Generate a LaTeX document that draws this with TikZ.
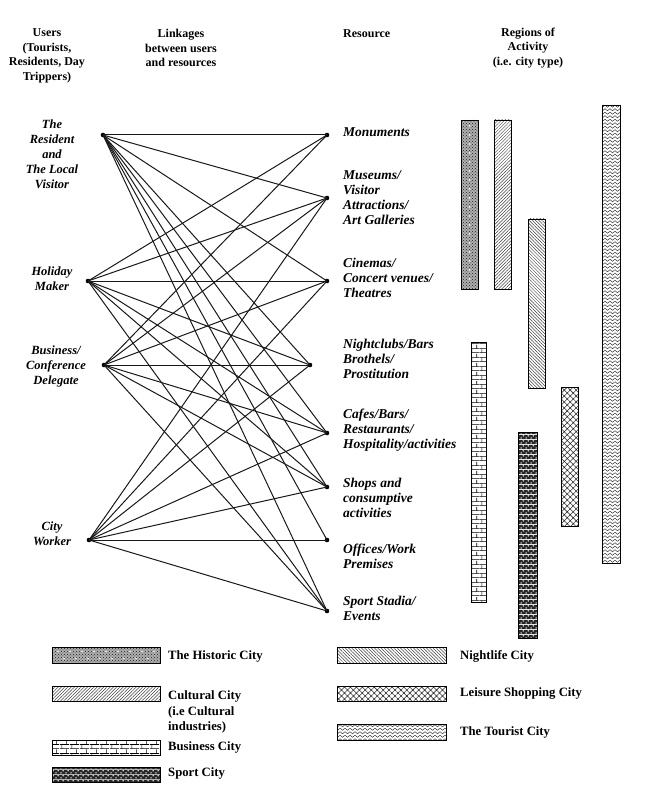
\documentclass[tikz,border=0pt]{standalone}
\usepackage{fontspec}
\setmainfont{Liberation Serif}
\usetikzlibrary{patterns,patterns.meta}

\tikzdeclarepattern{
  name=zigzagpat,
  type=uncolored,
  bottom left={(-1pt,-1pt)},
  top right={(6pt,4.5pt)},
  tile size={(5pt,3.5pt)},
  code={
    \draw[line width=0.5pt] (0pt,2.8pt) -- (2.5pt,0.7pt) -- (5pt,2.8pt);
  }
}
\tikzdeclarepattern{
  name=brickpat,
  type=uncolored,
  bottom left={(0pt,0pt)},
  top right={(10pt,9pt)},
  tile size={(10pt,9pt)},
  code={
    \draw[line width=0.7pt] (0pt,0.3pt) -- (10pt,0.3pt);
    \draw[line width=0.7pt] (0pt,4.8pt) -- (10pt,4.8pt);
    \draw[line width=0.7pt] (2pt,0pt) -- (2pt,4.8pt);
    \draw[line width=0.7pt] (7pt,4.8pt) -- (7pt,9pt);
  }
}
\tikzdeclarepattern{
  name=sportpat,
  type=colored,
  bottom left={(0pt,0pt)},
  top right={(5pt,5pt)},
  tile size={(5pt,5pt)},
  code={
    \fill[black!85] (0pt,0pt) rectangle (5pt,5pt);
    \fill[white] (1.25pt,1.25pt) circle (0.9pt);
    \fill[white] (3.75pt,3.75pt) circle (0.9pt);
  }
}

\begin{document}
\begin{tikzpicture}[x=1pt,y=-1pt,
  dot/.style={circle, fill=black, inner sep=0pt, minimum size=4.6pt},
  link/.style={line width=1pt, black!90},
  hdr/.style={font=\bfseries\fontsize{12}{14.5}\selectfont, align=center, inner sep=0pt},
  usr/.style={font=\bfseries\itshape\fontsize{12.5}{15}\selectfont, align=center, inner sep=0pt},
  res/.style={font=\bfseries\itshape\fontsize{13.5}{15.2}\selectfont, align=left, anchor=west, inner sep=0pt},
  leg/.style={font=\bfseries\fontsize{12.7}{15.5}\selectfont, align=left, anchor=west, inner sep=0pt},
  barframe/.style={draw=black, line width=0.7pt},
  historic/.style={barframe, preaction={fill=gray!62}, pattern=crosshatch dots, pattern color=black!90},
  cultural/.style={barframe, pattern={Lines[angle=45,distance=2.3pt,line width=0.5pt]}, pattern color=black!75},
  nightlife/.style={barframe, pattern={Lines[angle=-45,distance=2.3pt,line width=0.5pt]}, pattern color=black!75},
  leisure/.style={barframe, pattern={Hatch[angle=45,distance=4.2pt,line width=0.55pt]}, pattern color=black!85},
  tourist/.style={barframe, pattern=zigzagpat, pattern color=black!80},
  business/.style={draw=black, line width=0.6pt, pattern=brickpat, pattern color=black},
  sport/.style={barframe, pattern=sportpat},
  whitedot/.style={fill=white}
]
\useasboundingbox (0,0) rectangle (650,794);

% headers
\node[hdr] (h1) at (47,56) {Users\\(Tourists,\\Residents, Day\\Trippers)};
\node[hdr] (h2) at (181,48) {Linkages\\between users\\and resources};
\node[hdr, anchor=west] (h3) at (343,34) {Resource};
\node[hdr] (h4) at (528,48) {Regions of\\Activity\\(i.e. city type)};

% users
\node[dot] (u1) at (103,135) {};
\node[dot] (u2) at (88,281) {};
\node[dot] (u3) at (104,365) {};
\node[dot] (u4) at (89,540) {};
\node[usr] (tu1) at (52,154) {The\\Resident\\and\\The Local\\Visitor};
\node[usr] (tu2) at (52,279) {Holiday\\Maker};
\node[usr] (tu3) at (56,366) {Business/\\Conference\\Delegate};
\node[usr] (tu4) at (52,534) {City\\Worker};

% resources
\node[dot] (r1) at (327,135) {};
\node[dot] (r2) at (327,198) {};
\node[dot] (r3) at (327,281) {};
\node[dot] (r4) at (310,365) {};
\node[dot] (r5) at (327,433) {};
\node[dot] (r6) at (327,487) {};
\node[dot] (r7) at (327,540) {};
\node[dot] (r8) at (327,611) {};
\node[res] (t1) at (343,132) {Monuments};
\node[res] (t2) at (343,197.5) {Museums/\\Visitor\\Attractions/\\Art Galleries};
\node[res] (t3) at (343,278) {Cinemas/\\Concert venues/\\Theatres};
\node[res] (t4) at (343,359) {Nightclubs/Bars\\Brothels/\\Prostitution};
\node[res] (t5) at (343,430) {Cafes/Bars/\\Restaurants/\\Hospitality/activities};
\node[res] (t6) at (343,498) {Shops and\\consumptive\\activities};
\node[res] (t7) at (343,556) {Offices/Work\\Premises};
\node[res] (t8) at (343,608) {Sport Stadia/\\Events};

% linkages
\foreach \a/\b in {u1/r1,u1/r2,u1/r3,u1/r4,u1/r5,u1/r6,u1/r7,u1/r8,
                   u2/r1,u2/r2,u2/r3,u2/r4,u2/r5,u2/r6,u2/r8,
                   u3/r1,u3/r2,u3/r3,u3/r4,u3/r5,u3/r6,u3/r8,
                   u4/r2,u4/r3,u4/r4,u4/r5,u4/r6,u4/r7,u4/r8}
  \draw[link] (\a.center) -- (\b.center);

% regions of activity bars
\draw[historic] (461,120) rectangle (478,289);
\foreach \yy in {126,135,...,284} \fill[whitedot] (469.5,\yy) circle (0.9pt);
\draw[cultural] (494,120) rectangle (511,289);
\draw[nightlife] (528,219) rectangle (545,388);
\draw[leisure] (561,387) rectangle (578,526);
\draw[tourist] (602,105) rectangle (620,563);
\draw[business] (471,342) rectangle (486,602);
\draw[sport] (518,432) rectangle (537,638);

% legend
\draw[historic] (52,647) rectangle (160,663);
\foreach \xx in {58,70,...,154} \fill[whitedot] (\xx,651.5) circle (0.8pt);
\foreach \xx in {64,76,...,154} \fill[whitedot] (\xx,658.5) circle (0.8pt);
\node[leg] (l1) at (168,656) {The Historic City};
\draw[cultural] (52,686) rectangle (160,701);
\node[leg] (l2) at (168,712) {Cultural City\\(i.e Cultural\\industries)};
\draw[business] (52,740) rectangle (160,755);
\node[leg] (l3) at (168,747) {Business City};
\draw[sport] (52,767) rectangle (160,782);
\node[leg] (l4) at (168,773) {Sport City};
\draw[nightlife] (337,647) rectangle (446,663);
\node[leg] (l5) at (460,656) {Nightlife City};
\draw[leisure] (337,686) rectangle (446,701);
\node[leg] (l6) at (460,693) {Leisure Shopping City};
\draw[tourist] (337,724) rectangle (446,740);
\node[leg] (l7) at (460,732) {The Tourist City};
\end{tikzpicture}
\end{document}
